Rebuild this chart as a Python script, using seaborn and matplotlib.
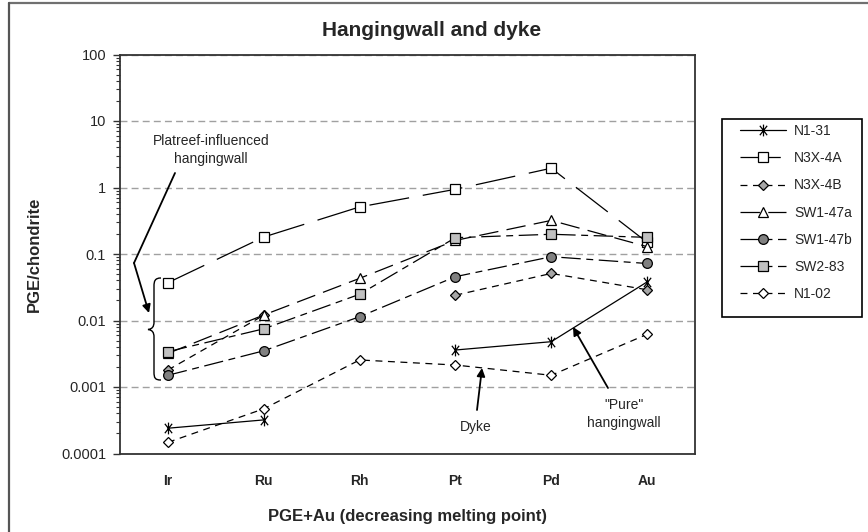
import numpy as np
import pandas as pd
import matplotlib
matplotlib.use("Agg")
import matplotlib.pyplot as plt
import matplotlib.ticker as mticker
from matplotlib.path import Path
from matplotlib.patches import PathPatch, Rectangle, FancyArrowPatch
from matplotlib.lines import Line2D
import seaborn as sns

# ---- data -------------------------------------------------------------
elements = ["Ir", "Ru", "Rh", "Pt", "Pd", "Au"]
y_ticks = [0.0001, 0.001, 0.01, 0.1, 1, 10, 100]
y_tick_labels = ["0.0001", "0.001", "0.01", "0.1", "1", "10", "100"]

sample_names = ["N1-31", "N3X-4A", "N3X-4B", "SW1-47a", "SW1-47b", "SW2-83", "N1-02"]

n1_31 = [0.00024, 0.00032, np.nan, 0.0036, 0.0048, 0.038]
n3x_4a = [0.037, 0.18, 0.51, 0.94, 1.95, 0.15]
n3x_4b = [0.0018, 0.012, np.nan, 0.024, 0.051, 0.029]
sw1_47a = [0.0032, 0.0121, 0.043, 0.16, 0.32, 0.129]
sw1_47b = [0.0015, 0.0035, 0.0114, 0.0456, 0.091, 0.072]
sw2_83 = [0.0034, 0.0075, 0.0248, 0.176, 0.198, 0.178]
n1_02 = [0.000147, 0.00047, 0.00255, 0.00214, 0.0015, 0.0062]

series_values = [n1_31, n3x_4a, n3x_4b, sw1_47a, sw1_47b, sw2_83, n1_02]

# ---- styling ----------------------------------------------------------
sns.set_style("white")
plt.rcParams["font.family"] = ["Liberation Sans", "DejaVu Sans"]
plt.rcParams["lines.scale_dashes"] = False

# six-armed asterisk: vertical bar plus an X
asterisk = Path(
    [(0, -1), (0, 1), (-0.62, -0.8), (0.62, 0.8), (-0.62, 0.8), (0.62, -0.8)],
    [Path.MOVETO, Path.LINETO, Path.MOVETO, Path.LINETO, Path.MOVETO, Path.LINETO],
)

styles = {
    "N1-31":   dict(marker=asterisk, ms=8.5, mfc="none", ls="-"),
    "N3X-4A":  dict(marker="s", ms=7, mfc="white", ls=(0, (29, 10))),
    "N3X-4B":  dict(marker="D", ms=5.4, mfc="#a6a6a6", ls=(0, (5, 4))),
    "SW1-47a": dict(marker="^", ms=7.5, mfc="white", ls=(0, (14, 6))),
    "SW1-47b": dict(marker="o", ms=7, mfc="#808080", ls=(0, (14, 4, 5, 4))),
    "SW2-83":  dict(marker="s", ms=7, mfc="#c0c0c0", ls=(0, (14, 4, 5, 4))),
    "N1-02":   dict(marker="D", ms=5.4, mfc="white", ls=(0, (5, 4))),
}

# long-form table; a new segment starts after every missing value
records = []
for name, vals in zip(sample_names, series_values):
    seg = 0
    for i, v in enumerate(vals):
        if np.isnan(v):
            seg += 1
            continue
        records.append({"sample": name, "element": elements[i], "pos": i,
                        "value": v, "seg": seg})
df = pd.DataFrame(records)

W, H = 868, 532
fig = plt.figure(figsize=(W / 100, H / 100), dpi=100)
ax = fig.add_axes([120 / W, 1 - 453.5 / H, 575 / W, 399 / H])


def px(x, y):
    return (x / W, 1 - y / H)


ax.set_yscale("log")
for z, name in enumerate(sample_names):
    st = styles[name]
    sns.lineplot(
        data=df[df["sample"] == name], x="pos", y="value", units="seg",
        estimator=None, sort=False, ax=ax, color="black", linewidth=0.9,
        linestyle=st["ls"], marker=st["marker"], markersize=st["ms"],
        markerfacecolor=st["mfc"], markeredgecolor="black",
        markeredgewidth=0.9, zorder=3 + z,
    )

ax.set_xlim(-0.5, len(elements) - 0.5)
ax.set_ylim(y_ticks[0], y_ticks[-1])
ax.set_xticks(range(len(elements)))
ax.set_xticklabels(elements, fontweight="bold", fontsize=10)
ax.tick_params(axis="x", length=0, pad=15)

ax.yaxis.set_major_locator(mticker.FixedLocator(y_ticks))
ax.yaxis.set_major_formatter(mticker.FixedFormatter(y_tick_labels))
ax.yaxis.set_minor_locator(mticker.LogLocator(base=10, subs=np.arange(2, 10)))
ax.yaxis.set_minor_formatter(mticker.NullFormatter())
ax.tick_params(axis="y", which="major", direction="out", length=5, width=1,
               labelsize=10.5, pad=5, left=True, color="#333333")
ax.tick_params(axis="y", which="minor", direction="out", length=3, width=0.8,
               left=True, color="#333333")

ax.yaxis.grid(True, which="major", color="#a0a0a0", linestyle=(0, (5, 3)),
              linewidth=1.0)
ax.xaxis.grid(False)
ax.set_axisbelow(True)
for sp in ax.spines.values():
    sp.set_visible(True)
    sp.set_color("#333333")
    sp.set_linewidth(1.3)

ax.set_xlabel("PGE+Au (decreasing melting point)", fontsize=12, fontweight="bold")
ax.xaxis.set_label_coords(0.5, -0.138)
ax.set_ylabel("PGE/chondrite", fontsize=12, fontweight="bold")
ax.yaxis.set_label_coords(-0.136, 0.5)

fig.suptitle("Hangingwall and dyke", x=432 / W, y=1 - 30 / H, va="center",
             fontsize=15, fontweight="bold")

# outer chart-area border
fig.add_artist(Line2D([9 / W, 1.0], [1 - 3 / H, 1 - 3 / H],
                      transform=fig.transFigure, color="#707070", lw=1.6))
fig.add_artist(Line2D([9 / W, 9 / W], [0.0, 1 - 3 / H],
                      transform=fig.transFigure, color="#555555", lw=1.6))

# ---- legend ----------------------------------------------------------
handles = []
for name in sample_names:
    st = styles[name]
    handles.append(Line2D([], [], color="black", linewidth=0.9,
                          linestyle=st["ls"], marker=st["marker"],
                          markersize=st["ms"], markerfacecolor=st["mfc"],
                          markeredgecolor="black", markeredgewidth=0.9))
fig.add_artist(Rectangle(px(722, 317), 140 / W, 198 / H,
                         transform=fig.transFigure, fill=True,
                         facecolor="white", edgecolor="black", lw=1.2))
fig.legend(handles, sample_names, loc="upper left", bbox_to_anchor=px(740, 124),
           frameon=False, fontsize=10, handlelength=3.3, handletextpad=0.6,
           labelspacing=0.95, borderpad=0, borderaxespad=0)

# ---- annotations -----------------------------------------------------
ann_kw = dict(fontsize=10, ha="center", va="center")
fig.text(*px(211, 150), "Platreef-influenced\nhangingwall", linespacing=1.45,
         **ann_kw)
fig.text(*px(476, 427), "Dyke", **ann_kw)
fig.text(*px(624, 414), "\"Pure\"\nhangingwall", linespacing=1.45, **ann_kw)

arrow_kw = dict(transform=fig.transFigure, arrowstyle="-|>", mutation_scale=12,
                color="black", lw=1.3, shrinkA=0, shrinkB=0)
fig.add_artist(Line2D([px(175, 173)[0], px(134, 263)[0]],
                      [px(175, 173)[1], px(134, 263)[1]],
                      transform=fig.transFigure, color="black", lw=1.3))
fig.add_artist(FancyArrowPatch(px(134, 263), px(149, 313), **arrow_kw))
fig.add_artist(FancyArrowPatch(px(477, 410), px(482, 368), **arrow_kw))
fig.add_artist(FancyArrowPatch(px(608, 388), px(573, 327), **arrow_kw))

# curly brace grouping the hangingwall samples at Ir
brace_pts = [(161, 278), (155, 278), (154, 281), (154, 286),
             (154, 322),
             (154, 327), (152, 329), (148, 329.5),
             (152, 330), (154, 332), (154, 337),
             (154, 372),
             (154, 378), (155, 380), (161, 380)]
brace_codes = ([Path.MOVETO] + [Path.CURVE4] * 3 + [Path.LINETO]
               + [Path.CURVE4] * 3 + [Path.CURVE4] * 3 + [Path.LINETO]
               + [Path.CURVE4] * 3)
brace = Path([px(x, y) for x, y in brace_pts], brace_codes)
fig.add_artist(PathPatch(brace, transform=fig.transFigure, fill=False,
                         edgecolor="black", lw=1.0))

fig.savefig("out.png", dpi=100)
